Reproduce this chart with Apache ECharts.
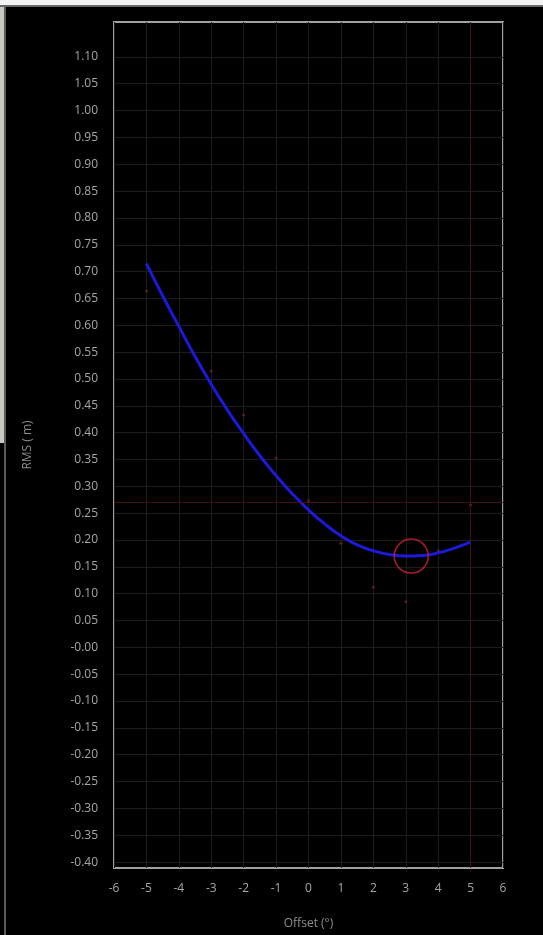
<!DOCTYPE html>
<html>
<head>
<meta charset="utf-8">
<script src="https://cdn.jsdelivr.net/npm/echarts@6/dist/echarts.min.js"></script>
<style>
  html, body { margin: 0; padding: 0; background: #000; }
  #wrap { position: relative; width: 543px; height: 935px; overflow: hidden; background: #000; }
  #topbar { position: absolute; left: 0; top: 0; width: 543px; height: 5px; background: #f4f4f4; }
  #topline { position: absolute; left: 0; top: 5px; width: 543px; height: 2px; background: #6a6a6a; }
  #leftbar { position: absolute; left: 0; top: 7px; width: 4px; height: 436px; background: #c9c9c2; }
  #leftline { position: absolute; left: 4px; top: 7px; width: 2px; height: 928px; background: #5a5a5a; }
  #chart { position: absolute; left: 0; top: 0; width: 543px; height: 935px; }
</style>
</head>
<body>
<div id="wrap">
  <div id="topbar"></div>
  <div id="topline"></div>
  <div id="leftbar"></div>
  <div id="leftline"></div>
  <div id="chart"></div>
</div>
<script>
// fitted curve
var curveX = [-5, -4.5, -4, -3.5, -3, -2.5, -2, -1.5, -1, -0.5, 0, 0.5, 1, 1.5, 2, 2.5, 3, 3.5, 4, 4.5, 5];
var curveY = [0.715, 0.655, 0.598, 0.542, 0.490, 0.442, 0.398, 0.357, 0.320, 0.286, 0.256, 0.230, 0.208, 0.191, 0.180, 0.173, 0.170, 0.171, 0.176, 0.185, 0.196];

// measured points (faint red dots)
var pointX = [-5, -3, -2, -1, 0, 1, 2, 3, 4, 5];
var pointY = [0.664, 0.515, 0.433, 0.353, 0.273, 0.194, 0.112, 0.085, 0.180, 0.265];

// minimum marker and cursor
var minPoint = [3.17, 0.170];
var cursorX = 5;
var cursorY = 0.265;

var yTickLabels = ['1.10','1.05','1.00','0.95','0.90','0.85','0.80','0.75','0.70','0.65','0.60','0.55','0.50','0.45','0.40','0.35','0.30','0.25','0.20','0.15','0.10','0.05','-0.00','-0.05','-0.10','-0.15','-0.20','-0.25','-0.30','-0.35','-0.40'];
var yTickValues = yTickLabels.map(function (s) { return parseFloat(s); });

var curveData = curveX.map(function (x, i) { return [x, curveY[i]]; });
var pointData = pointX.map(function (x, i) { return [x, pointY[i]]; });

var labelFont = { color: '#a6a6a6', fontSize: 12, fontFamily: 'Open Sans' };

var myChart = echarts.init(document.getElementById('chart'));
var option = {
  animation: false,
  grid: {
    left: 114, top: 22, width: 389, height: 848,
    show: true,
    borderColor: '#a0a0a0',
    borderWidth: 2,
    backgroundColor: 'transparent'
  },
  xAxis: {
    type: 'value',
    min: -6, max: 6, interval: 1,
    name: 'Offset (°)',
    nameLocation: 'middle',
    nameGap: 50,
    nameTextStyle: { color: '#8e8e8e', fontSize: 12, fontFamily: 'Open Sans' },
    axisLine: { show: false },
    axisTick: { show: false },
    axisLabel: Object.assign({ margin: 15 }, labelFont),
    splitLine: { show: true, lineStyle: { color: '#1f1b1b', width: 1 } }
  },
  yAxis: {
    type: 'value',
    min: -0.411, max: 1.165,
    name: 'RMS ( m)',
    nameLocation: 'middle',
    nameGap: 80,
    nameTextStyle: { color: '#8e8e8e', fontSize: 12, fontFamily: 'Open Sans' },
    axisLine: { show: false },
    axisTick: { show: false, customValues: yTickValues },
    axisLabel: Object.assign({
      margin: 16,
      customValues: yTickValues,
      formatter: function (v) {
        var i = yTickValues.findIndex(function (t) { return Math.abs(t - v) < 1e-6; });
        return i >= 0 ? yTickLabels[i] : '';
      }
    }, labelFont),
    splitLine: { show: true, lineStyle: { color: '#1f1b1b', width: 1 } }
  },
  series: [
    {
      type: 'scatter',
      data: pointData,
      symbolSize: 3,
      itemStyle: { color: '#6e2222' },
      silent: true,
      markLine: {
        silent: true,
        symbol: ['none', 'none'],
        label: { show: false },
        lineStyle: { color: '#431010', width: 1, type: 'solid' },
        data: [{ yAxis: cursorY }, { xAxis: cursorX }]
      }
    },
    {
      type: 'line',
      data: curveData,
      smooth: true,
      showSymbol: false,
      lineStyle: { color: '#1c1ad8', width: 3 },
      z: 3
    },
    {
      type: 'scatter',
      data: [minPoint],
      symbol: 'circle',
      symbolSize: 34,
      itemStyle: { color: 'rgba(0,0,0,0)', borderColor: '#cf2233', borderWidth: 1.5 },
      z: 4
    }
  ]
};
option && myChart.setOption(option);
</script>
</body>
</html>
